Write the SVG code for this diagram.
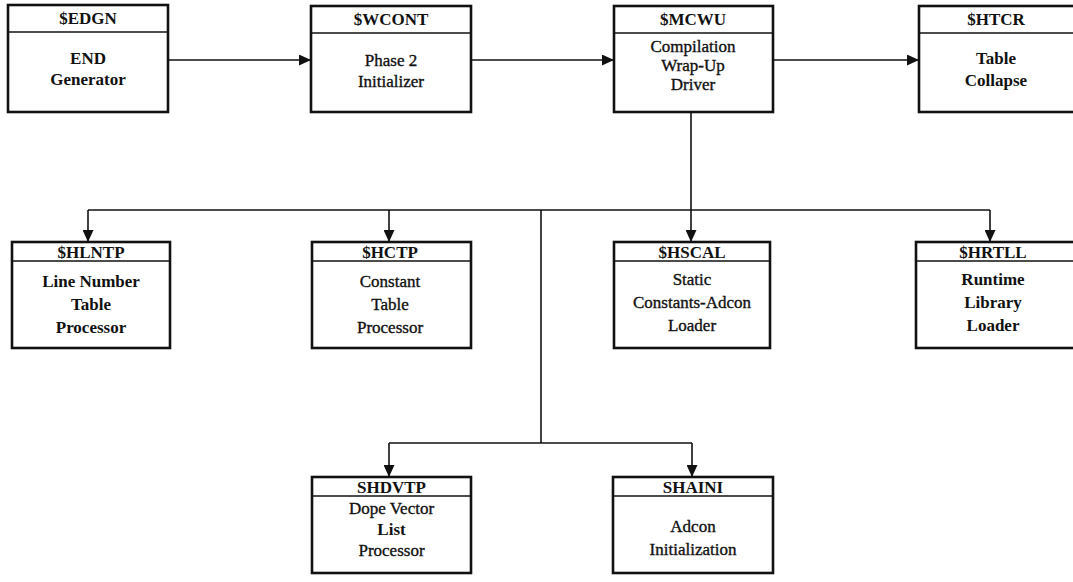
<svg xmlns="http://www.w3.org/2000/svg" width="1073" height="582" viewBox="0 0 1073 582">
  <style>
    .box { fill: #ffffff; stroke: #111111; stroke-width: 2.6; }
    .hdr { stroke: #111111; stroke-width: 1.6; fill: none; }
    .title { font-family: "Liberation Serif", "DejaVu Serif", serif; font-weight: bold; font-size: 17px; fill: #111111; text-anchor: middle; }
    .b { font-family: "Liberation Serif", "DejaVu Serif", serif; font-weight: bold; font-size: 17px; fill: #111111; text-anchor: middle; }
    .r { font-family: "Liberation Serif", "DejaVu Serif", serif; font-weight: normal; font-size: 17px; fill: #111111; text-anchor: middle; stroke: #111111; stroke-width: 0.35; }
    .link { stroke: #111111; stroke-width: 1.6; fill: none; }
  </style>
  <defs>
    <marker id="arrow" viewBox="0 0 12 11" refX="12" refY="5.5" markerWidth="12" markerHeight="11" markerUnits="userSpaceOnUse" orient="auto">
      <path d="M0,0 L12,5.5 L0,11 Z" fill="#111111"/>
    </marker>
  </defs>

  <rect width="1073" height="582" fill="#ffffff"/>

  <!-- connectors -->
  <g id="connectors">
    <line class="link" x1="168" y1="60" x2="311" y2="60" marker-end="url(#arrow)"/>
    <line class="link" x1="471" y1="60" x2="614" y2="60" marker-end="url(#arrow)"/>
    <line class="link" x1="773" y1="60" x2="919" y2="60" marker-end="url(#arrow)"/>
    <line class="link" x1="691" y1="112" x2="691" y2="210"/>
    <line class="link" x1="88" y1="210" x2="990" y2="210"/>
    <line class="link" x1="88" y1="210" x2="88" y2="242" marker-end="url(#arrow)"/>
    <line class="link" x1="389" y1="210" x2="389" y2="242" marker-end="url(#arrow)"/>
    <line class="link" x1="691" y1="210" x2="691" y2="242" marker-end="url(#arrow)"/>
    <line class="link" x1="990" y1="210" x2="990" y2="242" marker-end="url(#arrow)"/>
    <line class="link" x1="541" y1="210" x2="541" y2="443"/>
    <line class="link" x1="389" y1="443" x2="692" y2="443"/>
    <line class="link" x1="389" y1="443" x2="389" y2="477" marker-end="url(#arrow)"/>
    <line class="link" x1="692" y1="443" x2="692" y2="477" marker-end="url(#arrow)"/>
  </g>

  <!-- top row -->
  <g id="edgn">
    <rect class="box" x="8" y="5" width="160" height="107"/>
    <line class="hdr" x1="8" y1="32" x2="168" y2="32"/>
    <text class="title" x="88" y="24">$EDGN</text>
    <text class="b" x="88" y="64">END</text>
    <text class="b" x="88" y="85">Generator</text>
  </g>
  <g id="wcont">
    <rect class="box" x="311" y="6" width="160" height="106"/>
    <line class="hdr" x1="311" y1="33" x2="471" y2="33"/>
    <text class="title" x="391" y="25">$WCONT</text>
    <text class="r" x="391" y="66">Phase 2</text>
    <text class="r" x="391" y="87">Initializer</text>
  </g>
  <g id="mcwu">
    <rect class="box" x="614" y="6" width="159" height="106"/>
    <line class="hdr" x1="614" y1="33" x2="773" y2="33"/>
    <text class="title" x="693" y="25">$MCWU</text>
    <text class="r" x="693" y="52">Compilation</text>
    <text class="r" x="693" y="71">Wrap-Up</text>
    <text class="r" x="693" y="90">Driver</text>
  </g>
  <g id="htcr">
    <rect class="box" x="919" y="6" width="160" height="106"/>
    <line class="hdr" x1="919" y1="33" x2="1079" y2="33"/>
    <text class="title" x="996" y="25">$HTCR</text>
    <text class="b" x="996" y="64">Table</text>
    <text class="b" x="996" y="86">Collapse</text>
  </g>

  <!-- second row -->
  <g id="hlntp">
    <rect class="box" x="12" y="242" width="158" height="106"/>
    <line class="hdr" x1="12" y1="261" x2="170" y2="261"/>
    <text class="title" x="91" y="258">$HLNTP</text>
    <text class="b" x="91" y="287">Line Number</text>
    <text class="b" x="91" y="310">Table</text>
    <text class="b" x="91" y="333">Processor</text>
  </g>
  <g id="hctp">
    <rect class="box" x="312" y="242" width="159" height="106"/>
    <line class="hdr" x1="312" y1="261" x2="471" y2="261"/>
    <text class="title" x="390" y="258">$HCTP</text>
    <text class="r" x="390" y="287">Constant</text>
    <text class="r" x="390" y="310">Table</text>
    <text class="r" x="390" y="333">Processor</text>
  </g>
  <g id="hscal">
    <rect class="box" x="614" y="242" width="156" height="106"/>
    <line class="hdr" x1="614" y1="261" x2="770" y2="261"/>
    <text class="title" x="692" y="258">$HSCAL</text>
    <text class="r" x="692" y="285">Static</text>
    <text class="r" x="692" y="308">Constants-Adcon</text>
    <text class="r" x="692" y="331">Loader</text>
  </g>
  <g id="hrtll">
    <rect class="box" x="916" y="242" width="163" height="106"/>
    <line class="hdr" x1="916" y1="261" x2="1079" y2="261"/>
    <text class="title" x="993" y="258">$HRTLL</text>
    <text class="b" x="993" y="285">Runtime</text>
    <text class="b" x="993" y="308">Library</text>
    <text class="b" x="993" y="331">Loader</text>
  </g>

  <!-- third row -->
  <g id="hdvtp">
    <rect class="box" x="312" y="477" width="159" height="96"/>
    <line class="hdr" x1="312" y1="496" x2="471" y2="496"/>
    <text class="title" x="391.5" y="493">SHDVTP</text>
    <text class="r" x="391.5" y="514">Dope Vector</text>
    <text class="b" x="391.5" y="535">List</text>
    <text class="r" x="391.5" y="556">Processor</text>
  </g>
  <g id="haini">
    <rect class="box" x="613" y="477" width="160" height="96"/>
    <line class="hdr" x1="613" y1="496" x2="773" y2="496"/>
    <text class="title" x="693" y="493">SHAINI</text>
    <text class="r" x="693" y="532">Adcon</text>
    <text class="r" x="693" y="555">Initialization</text>
  </g>
</svg>
